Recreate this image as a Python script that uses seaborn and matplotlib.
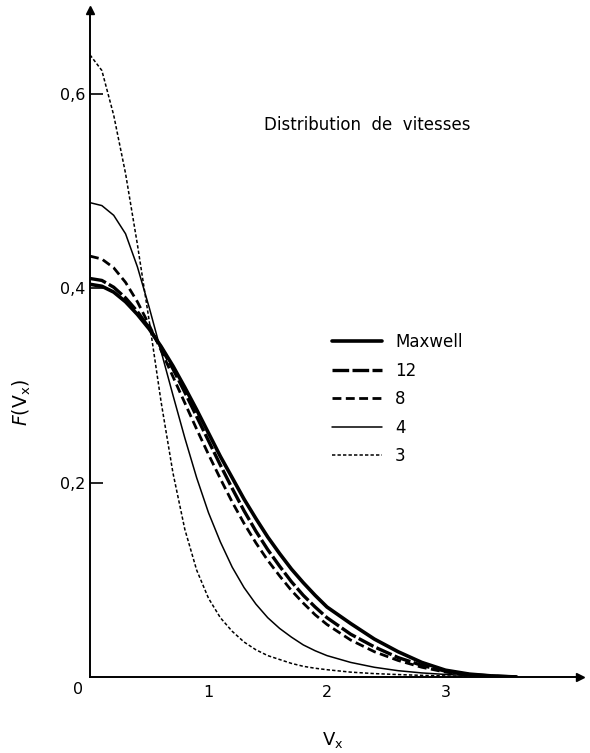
import matplotlib
matplotlib.use("Agg")
import matplotlib.pyplot as plt
import seaborn as sns
import pandas as pd
from matplotlib.lines import Line2D

# Velocity grid (V_x) shared by all curves
vx = [0.0, 0.1, 0.2, 0.3, 0.4, 0.5, 0.6, 0.7, 0.8, 0.9, 1.0,
      1.1, 1.2, 1.3, 1.4, 1.5, 1.6, 1.7, 1.8, 1.9, 2.0,
      2.2, 2.4, 2.6, 2.8, 3.0, 3.2, 3.4, 3.6]

f_maxwell = [0.404, 0.402, 0.396, 0.386, 0.373, 0.358, 0.340, 0.320, 0.298, 0.275, 0.251,
             0.227, 0.205, 0.183, 0.163, 0.144, 0.127, 0.111, 0.097, 0.084, 0.072,
             0.055, 0.039, 0.026, 0.015, 0.007, 0.003, 0.001, 0.0]
f_12 = [0.410, 0.408, 0.401, 0.390, 0.376, 0.359, 0.339, 0.317, 0.293, 0.268, 0.243,
        0.218, 0.194, 0.171, 0.150, 0.131, 0.114, 0.098, 0.084, 0.072, 0.061,
        0.044, 0.031, 0.020, 0.012, 0.006, 0.0025, 0.001, 0.0]
f_8 = [0.433, 0.430, 0.421, 0.406, 0.386, 0.362, 0.336, 0.309, 0.282, 0.255, 0.229,
       0.204, 0.180, 0.158, 0.138, 0.120, 0.104, 0.089, 0.076, 0.064, 0.054,
       0.038, 0.026, 0.017, 0.010, 0.005, 0.002, 0.001, 0.0]
f_4 = [0.488, 0.485, 0.475, 0.456, 0.422, 0.380, 0.335, 0.290, 0.246, 0.205, 0.169,
       0.139, 0.113, 0.092, 0.075, 0.061, 0.050, 0.041, 0.033, 0.027, 0.022,
       0.015, 0.010, 0.0065, 0.0042, 0.0026, 0.0015, 0.0007, 0.0]
f_3 = [0.640, 0.624, 0.578, 0.518, 0.445, 0.366, 0.283, 0.210, 0.152, 0.110, 0.081,
       0.061, 0.047, 0.036, 0.028, 0.022, 0.018, 0.014, 0.011, 0.009, 0.0075,
       0.005, 0.0035, 0.0025, 0.0017, 0.0011, 0.0006, 0.0003, 0.0]

labels = ["Maxwell", "12", "8", "4", "3"]
yticks = [0.2, 0.4, 0.6]
ytick_labels = ["0,2", "0,4", "0,6"]
xticks = [1, 2, 3]
xtick_labels = ["1", "2", "3"]

series = [f_maxwell, f_12, f_8, f_4, f_3]
styles = {
    "Maxwell": dict(linewidth=2.6, linestyle="-"),
    "12": dict(linewidth=2.4, linestyle=(0, (5.0, 1.0))),
    "8": dict(linewidth=2.0, linestyle=(0, (3.2, 1.6))),
    "4": dict(linewidth=1.1, linestyle="-"),
    "3": dict(linewidth=1.1, linestyle=(0, (2.2, 1.4))),
}

sns.set_theme(style="white")
plt.rcParams["font.family"] = ["DejaVu Sans"]
plt.rcParams["text.color"] = "black"
plt.rcParams["axes.labelcolor"] = "black"

fig = plt.figure(figsize=(5.9, 7.53), dpi=100)
ax = fig.add_axes([90 / 590, 76 / 753, 490 / 590, 667 / 753])

for name, fvals in zip(labels, series):
    df = pd.DataFrame({"vx": vx, "f": fvals})
    sns.lineplot(data=df, x="vx", y="f", ax=ax, color="black", label=name,
                 errorbar=None, sort=True, **styles[name])

xmax = 490 / 118.5
ymax = 667 / 972
ax.set_xlim(0, xmax)
ax.set_ylim(0, ymax)

for s in ["top", "right"]:
    ax.spines[s].set_visible(False)
for s in ["left", "bottom"]:
    ax.spines[s].set_color("black")
    ax.spines[s].set_linewidth(1.4)

# arrow heads at the ends of both axes
ax.plot(1, 0, marker=">", color="black", markersize=6, transform=ax.transAxes, clip_on=False)
ax.plot(0, 1, marker="^", color="black", markersize=6, transform=ax.transAxes, clip_on=False)

ax.set_yticks(yticks)
ax.set_yticklabels(ytick_labels, fontsize=11.5)
ax.set_xticks(xticks)
ax.set_xticklabels(xtick_labels, fontsize=11.5)
ax.tick_params(axis="y", left=True, direction="in", length=9, width=1.2, pad=3,
               color="black", labelcolor="black")
ax.tick_params(axis="x", bottom=False, length=0, pad=6, labelcolor="black")
ax.set_xlabel("")
ax.set_ylabel("")

fig.text(78 / 590, 1 - 690 / 753, "0", fontsize=11.5, ha="center", va="center")
fig.text(333 / 590, 1 - 740 / 753, r"V$_\mathregular{x}$", fontsize=13, ha="center", va="center")
fig.text(22 / 590, 1 - 402 / 753, r"$F$(V$_\mathregular{x}$)", fontsize=13.5, ha="center", va="center",
         rotation=90)
fig.text(367 / 590, 1 - 125 / 753, "Distribution  de  vitesses", fontsize=12,
         ha="center", va="center")

handles = [Line2D([], [], color="black", **styles[n]) for n in labels]
leg = ax.legend(handles, labels, loc="upper left", bbox_to_anchor=(332 / 590, 1 - 333 / 753),
                bbox_transform=fig.transFigure, frameon=False, fontsize=12,
                handlelength=3.0, handletextpad=0.78, labelspacing=0.63, borderpad=0,
                borderaxespad=0)
for t in leg.get_texts():
    t.set_color("black")

fig.savefig("out.png", dpi=100, facecolor="white")
